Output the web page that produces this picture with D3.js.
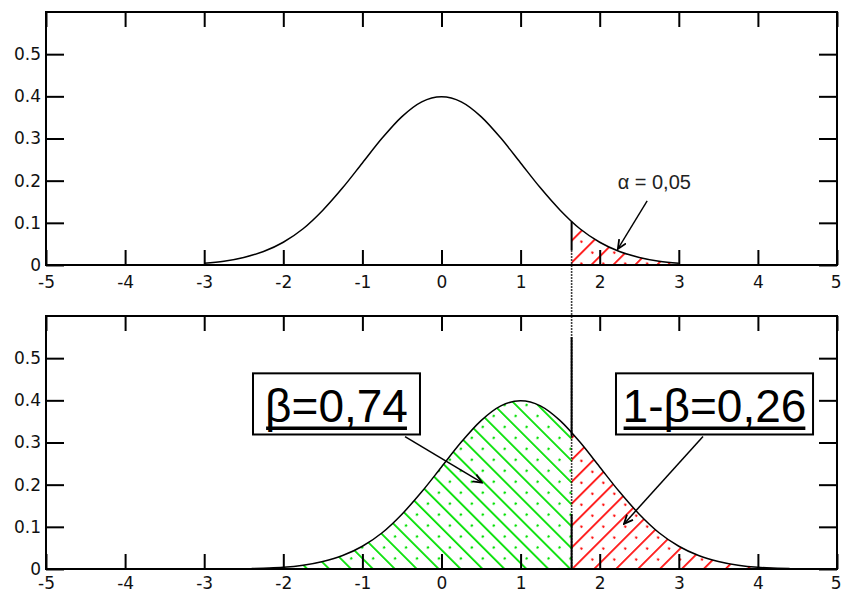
<!DOCTYPE html>
<html>
<head>
<meta charset="utf-8">
<script src="https://cdn.jsdelivr.net/npm/d3@7/dist/d3.min.js"></script>
<style>
  html, body { margin: 0; padding: 0; background: #fff; }
  svg { display: block; }
  .tick text { font-family: "DejaVu Sans", sans-serif; font-size: 17px; fill: #111; }
</style>
</head>
<body>
<svg id="chart" width="841" height="593"></svg>
<script>
// ---------- data ----------
const xTicks = [-5, -4, -3, -2, -1, 0, 1, 2, 3, 4, 5];
const yTicks = [0, 0.1, 0.2, 0.3, 0.4, 0.5];

// H0 density (upper panel)
const h0X = [-3, -2.75, -2.5, -2.25, -2, -1.75, -1.5, -1.25, -1, -0.75, -0.5, -0.25, 0,
             0.25, 0.5, 0.75, 1, 1.25, 1.5, 1.75, 2, 2.25, 2.5, 2.75, 3];
const h0Y = [0.004, 0.009, 0.018, 0.032, 0.054, 0.086, 0.130, 0.183, 0.242, 0.301, 0.352, 0.387, 0.399,
             0.387, 0.352, 0.301, 0.242, 0.183, 0.130, 0.086, 0.054, 0.032, 0.018, 0.009, 0.004];

// H1 density (lower panel)
const h1X = [-2.4, -2.25, -2, -1.75, -1.5, -1.25, -1, -0.75, -0.5, -0.25, 0, 0.25, 0.5, 0.75, 1,
             1.25, 1.5, 1.75, 2, 2.25, 2.5, 2.75, 3, 3.25, 3.5, 3.75, 4, 4.25, 4.4];
const h1Y = [0.001, 0.002, 0.004, 0.009, 0.018, 0.032, 0.054, 0.086, 0.130, 0.183, 0.242, 0.301, 0.352, 0.387, 0.399,
             0.387, 0.352, 0.301, 0.242, 0.183, 0.130, 0.086, 0.054, 0.032, 0.018, 0.009, 0.004, 0.002, 0.001];

const critX = 1.645;
const critDensityH0 = 0.103;
const critDensityH1 = 0.324;

const labels = ["α = 0,05", "β=0,74", "1-β=0,26"];

// ---------- layout ----------
const svg = d3.select("#chart");
const left = 46, right = 837;
const panels = [
  { top: 12, bottom: 265, pad: 11 },
  { top: 316, bottom: 569, pad: 8 }
];

const x = d3.scaleLinear().domain([-5, 5]).range([left, right]);
const yTop = d3.scaleLinear().domain([0, 0.6]).range([panels[0].bottom, panels[0].top]);
const yBot = d3.scaleLinear().domain([0, 0.6]).range([panels[1].bottom, panels[1].top]);

// ---------- patterns ----------
const defs = svg.append("defs");
function hatch(id, color, angle) {
  const p = defs.append("pattern")
    .attr("id", id).attr("patternUnits", "userSpaceOnUse")
    .attr("width", 15.5).attr("height", 15.5)
    .attr("patternTransform", `rotate(${angle})`);
  p.append("line").attr("x1", 0.9).attr("y1", 0).attr("x2", 0.9).attr("y2", 15.5)
    .attr("stroke", color).attr("stroke-width", 1.8);
  p.append("circle").attr("cx", 8.5).attr("cy", 7.75).attr("r", 1.3).attr("fill", color);
}
hatch("greenHatch", "#00e000", -45);
hatch("redHatch", "#ff1010", 45);

function clip(id, x0, x1, yScale) {
  defs.append("clipPath").attr("id", id).append("rect")
    .attr("x", x(x0)).attr("y", yScale.range()[1])
    .attr("width", x(x1) - x(x0)).attr("height", yScale.range()[0] - yScale.range()[1]);
}
clip("clipTopRight", critX, 5, yTop);
clip("clipBotLeft", -5, critX, yBot);
clip("clipBotRight", critX, 5, yBot);

defs.append("marker").attr("id", "arrow")
  .attr("viewBox", "0 0 10 10").attr("refX", 9).attr("refY", 5)
  .attr("markerWidth", 10).attr("markerHeight", 10).attr("orient", "auto")
  .attr("markerUnits", "userSpaceOnUse")
  .append("path").attr("d", "M0,1 L9,5 L0,9").attr("fill", "none")
  .attr("stroke", "#000").attr("stroke-width", 1.8);

// ---------- areas ----------
const h0 = h0X.map((v, i) => [v, h0Y[i]]);
const h1 = h1X.map((v, i) => [v, h1Y[i]]);

const areaTop = d3.area().x(d => x(d[0])).y0(yTop(0)).y1(d => yTop(d[1])).curve(d3.curveMonotoneX);
const areaBot = d3.area().x(d => x(d[0])).y0(yBot(0)).y1(d => yBot(d[1])).curve(d3.curveMonotoneX);
const lineTop = d3.line().x(d => x(d[0])).y(d => yTop(d[1])).curve(d3.curveMonotoneX);
const lineBot = d3.line().x(d => x(d[0])).y(d => yBot(d[1])).curve(d3.curveMonotoneX);

svg.append("path").attr("d", areaTop(h0)).attr("fill", "url(#redHatch)").attr("clip-path", "url(#clipTopRight)");
svg.append("path").attr("d", areaBot(h1)).attr("fill", "url(#greenHatch)").attr("clip-path", "url(#clipBotLeft)");
svg.append("path").attr("d", areaBot(h1)).attr("fill", "url(#redHatch)").attr("clip-path", "url(#clipBotRight)");

// ---------- critical line ----------
svg.append("line")
  .attr("x1", x(critX)).attr("x2", x(critX))
  .attr("y1", yTop(0.035)).attr("y2", yBot(0))
  .attr("stroke", "#000").attr("stroke-width", 1.6).attr("stroke-dasharray", "1.5,1.5");
const solidSegs = [
  [yTop(critDensityH0), yTop(0.035)],
  [yBot(0.55), yBot(critDensityH1 - 0.01)],
  [yBot(0.13), yBot(0)]
];
svg.selectAll(".critSolid").data(solidSegs).enter().append("line")
  .attr("x1", x(critX)).attr("x2", x(critX))
  .attr("y1", d => d[0]).attr("y2", d => d[1])
  .attr("stroke", "#000").attr("stroke-width", 2);

// ---------- curves ----------
svg.append("path").attr("d", lineTop(h0)).attr("fill", "none").attr("stroke", "#000").attr("stroke-width", 1.5);
svg.append("path").attr("d", lineBot(h1)).attr("fill", "none").attr("stroke", "#000").attr("stroke-width", 1.5);

// ---------- axes / frames ----------
const fmt = d => d === 0 ? "0" : d.toFixed(1);
[yTop, yBot].forEach((ys, i) => {
  const p = panels[i];
  const g = svg.append("g");
  g.append("g").attr("transform", `translate(0,${p.bottom})`)
    .call(d3.axisBottom(x).tickValues(xTicks).tickSizeInner(-15).tickSizeOuter(0).tickPadding(p.pad).tickFormat(d3.format("d")));
  g.append("g").attr("transform", `translate(0,${p.top})`)
    .call(d3.axisTop(x).tickValues(xTicks).tickSizeInner(-15).tickSizeOuter(0).tickFormat(""));
  g.append("g").attr("transform", `translate(${left},0)`)
    .call(d3.axisLeft(ys).tickValues(yTicks).tickSizeInner(-18).tickSizeOuter(0).tickPadding(5).tickFormat(fmt));
  g.append("g").attr("transform", `translate(${right},0)`)
    .call(d3.axisRight(ys).tickValues(yTicks).tickSizeInner(-18).tickSizeOuter(0).tickFormat(""));
  g.selectAll(".domain").remove();
  g.selectAll(".tick line").attr("stroke", "#000").attr("stroke-width", 2);
  g.append("rect").attr("x", left).attr("y", p.top)
    .attr("width", right - left).attr("height", p.bottom - p.top)
    .attr("fill", "none").attr("stroke", "#000").attr("stroke-width", 2);
});
svg.selectAll(".tick text").text(function(d) { return d3.select(this).text().replace("−", "-"); });
// keep the last x label ("5") inside the picture
svg.selectAll(".tick text").filter(d => d === 5).attr("text-anchor", "end").attr("x", 4);

// ---------- annotations ----------
// alpha
svg.append("text").attr("x", x(2.69)).attr("y", yTop(0.18))
  .attr("text-anchor", "middle")
  .style("font-family", "'Liberation Sans', Arial, sans-serif").style("font-size", "20px").attr("fill", "#222")
  .text(labels[0]);
svg.append("line").attr("x1", x(2.6)).attr("y1", yTop(0.152)).attr("x2", x(2.23)).attr("y2", yTop(0.038))
  .attr("stroke", "#000").attr("stroke-width", 1.4).attr("marker-end", "url(#arrow)");

// boxed labels
const boxes = [
  { text: labels[1], x0: -2.383, x1: -0.272, cx: -1.327, arrow: [[-0.461, 0.314], [0.512, 0.205]] },
  { text: labels[2], x0: 2.206, x1: 4.697, cx: 3.451, arrow: [[3.306, 0.314], [2.307, 0.107]] }
];
boxes.forEach(b => {
  svg.append("line")
    .attr("x1", x(b.arrow[0][0])).attr("y1", yBot(b.arrow[0][1]))
    .attr("x2", x(b.arrow[1][0])).attr("y2", yBot(b.arrow[1][1]))
    .attr("stroke", "#000").attr("stroke-width", 1.5).attr("marker-end", "url(#arrow)");
  svg.append("rect")
    .attr("x", x(b.x0)).attr("y", yBot(0.464))
    .attr("width", x(b.x1) - x(b.x0)).attr("height", yBot(0.319) - yBot(0.464))
    .attr("fill", "#fff").attr("stroke", "#000").attr("stroke-width", 2);
  const t = svg.append("text").attr("x", x(b.cx)).attr("y", yBot(0.348))
    .attr("text-anchor", "middle")
    .style("font-family", "'Liberation Sans', Arial, sans-serif").style("font-size", "46px").attr("fill", "#000")
    .text(b.text);
  const bb = t.node().getBBox();
  svg.append("line").attr("x1", bb.x + 1).attr("x2", bb.x + bb.width - 1)
    .attr("y1", yBot(0.348) + 6).attr("y2", yBot(0.348) + 6)
    .attr("stroke", "#000").attr("stroke-width", 3.5);
});
</script>
</body>
</html>
